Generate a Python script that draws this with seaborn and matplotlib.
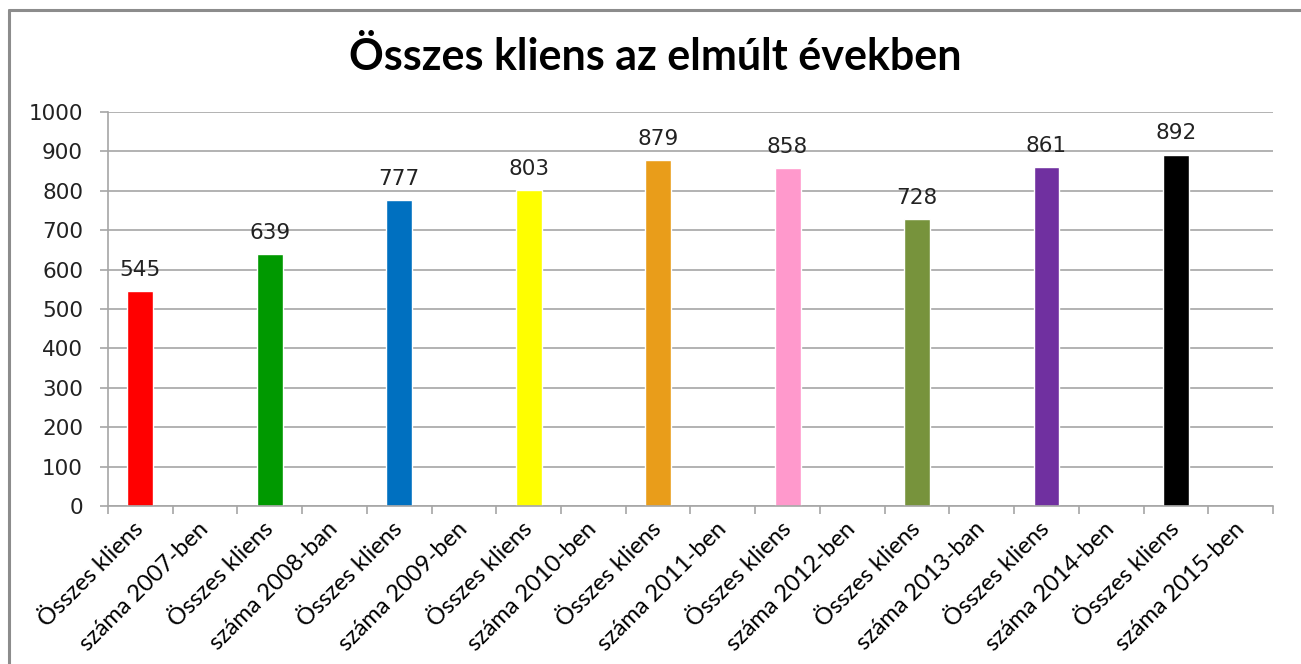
import numpy as np
import pandas as pd
import matplotlib
matplotlib.use("Agg")
import matplotlib.pyplot as plt
import seaborn as sns
from matplotlib.lines import Line2D

# Datos
evek = ['2007-ben', '2008-ban', '2009-ben', '2010-ben', '2011-ben',
        '2012-ben', '2013-ban', '2014-ben', '2015-ben']
kliensek = [545, 639, 777, 803, 879, 858, 728, 861, 892]
szinek = ['#FF0000', '#009900', '#0070C0', '#FFFF00', '#E99D1A',
          '#FF99CC', '#77933C', '#7030A0', '#000000']

# Excel mostró cada etiqueta partida en dos categorías: "Összes kliens" / "száma XXXX"
cimkek = []
ertekek = []
paletta = []
for ev, k, c in zip(evek, kliensek, szinek):
    cimkek += ['Összes kliens', 'száma ' + ev]
    ertekek += [k, np.nan]
    paletta += [c, c]

df = pd.DataFrame({'pos': [str(i) for i in range(len(cimkek))],
                   'cimke': cimkek, 'ertek': ertekek})

sns.set_theme(style='white')
plt.rcParams['font.family'] = ['DejaVu Sans']

fig = plt.figure(figsize=(13.01, 6.64), dpi=100)
ax = fig.add_axes([108 / 1301, 1 - 506 / 664, (1273 - 108) / 1301, (506 - 112) / 664])

sns.barplot(data=df, x='pos', y='ertek', hue='pos', palette=paletta,
            legend=False, width=0.4, ax=ax, saturation=1)

ax.set_ylim(0, 1000)
ax.set_xlim(-0.5, len(cimkek) - 0.5)
ax.set_yticks(range(0, 1001, 100))
ax.yaxis.grid(True, color='#a6a6a6', linewidth=1.2)
ax.set_axisbelow(True)
ax.set_xlabel('')
ax.set_ylabel('')

for s in ['top', 'right']:
    ax.spines[s].set_visible(False)
for s in ['left', 'bottom']:
    ax.spines[s].set_color('#a6a6a6')
    ax.spines[s].set_linewidth(1.2)

ax.tick_params(axis='y', left=True, length=6, width=1.2, color='#a6a6a6',
               labelsize=15.5, pad=12, labelcolor='#222222')
ax.set_xticks(range(len(cimkek)))
ax.set_xticklabels(cimkek)
ax.tick_params(axis='x', which='major', length=0, pad=14)
ax.set_xticks(np.arange(-0.5, len(cimkek), 1), minor=True)
ax.tick_params(axis='x', which='minor', bottom=True, length=6, width=1.2, color='#a6a6a6')
plt.setp(ax.get_xticklabels(), rotation=45, ha='right', rotation_mode='anchor',
         va='center', fontsize=17, family='Lato', color='#000000')

for cont in ax.containers:
    vals = [f'{v:.0f}' if not np.isnan(v) else '' for v in cont.datavalues]
    ax.bar_label(cont, labels=vals, padding=8, fontsize=15.5, color='#222222')

fig.suptitle('Összes kliens az elmúlt években', x=655 / 1301, y=1 - 57 / 664,
             va='center', fontsize=31, fontweight='bold', family='Lato', color='#000000')

# marco gris del gráfico
fig.add_artist(Line2D([8.5 / 1301, 1], [1 - 9.5 / 664] * 2, color='#8c8c8c', linewidth=2.2))
fig.add_artist(Line2D([8.5 / 1301] * 2, [0, 1 - 9.5 / 664], color='#8c8c8c', linewidth=2.2))

fig.savefig('out.png', dpi=100)
